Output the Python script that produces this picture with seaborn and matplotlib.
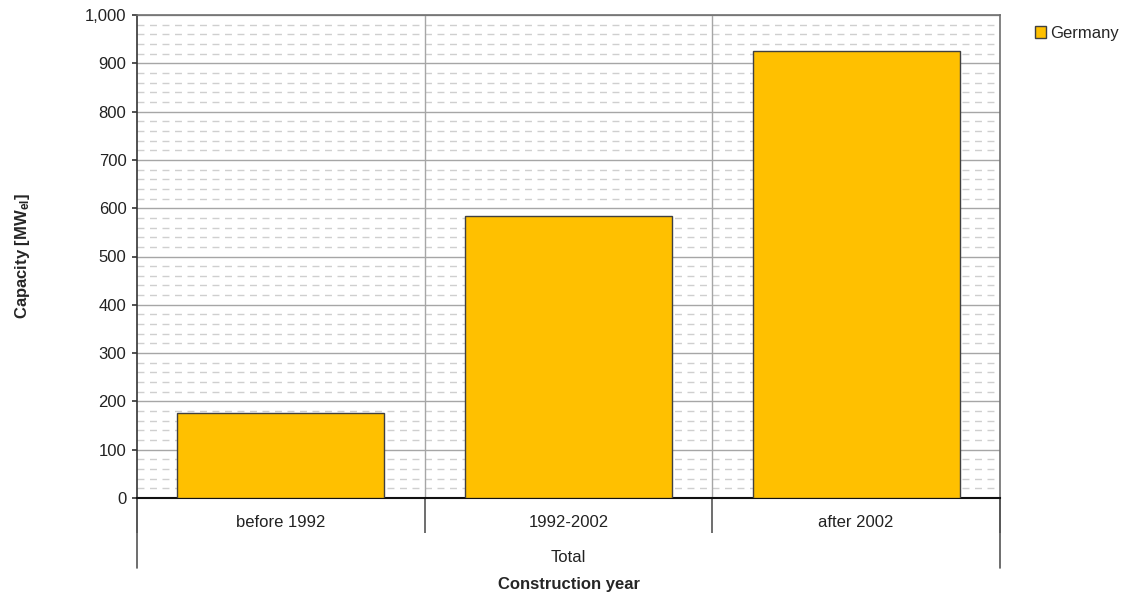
import pandas as pd
import matplotlib.pyplot as plt
import seaborn as sns
from matplotlib.ticker import MultipleLocator, FuncFormatter
from matplotlib.transforms import blended_transform_factory

categories = ["before 1992", "1992-2002", "after 2002"]
capacity = [175, 584, 925]
country = ["Germany", "Germany", "Germany"]

df = pd.DataFrame({"year": categories, "capacity": capacity, "country": country})

sns.set_style("white")
plt.rcParams["font.family"] = ["Liberation Sans", "DejaVu Sans"]
plt.rcParams["mathtext.default"] = "regular"

fig = plt.figure(figsize=(11.34, 5.93), dpi=100)
ax = fig.add_axes([137 / 1134, 95 / 593, 863 / 1134, 483 / 593])

sns.barplot(
    data=df, x="year", y="capacity", hue="country",
    palette=["#FFC000"], saturation=1, width=0.72, edgecolor="#404040",
    linewidth=1.0, ax=ax, zorder=3,
)

ax.set_xlim(-0.5, 2.5)
ax.set_ylim(0, 1000)
ax.yaxis.set_major_locator(MultipleLocator(100))
ax.yaxis.set_minor_locator(MultipleLocator(20))
ax.yaxis.set_major_formatter(FuncFormatter(lambda v, p: f"{int(v):,}"))
ax.grid(axis="y", which="major", color="#A6A6A6", linewidth=1.0, zorder=0)
ax.grid(axis="y", which="minor", color="#CFCFCF", linewidth=1.0,
        linestyle=(0, (5, 4)), zorder=0)
ax.set_axisbelow(True)

# category separators
ax.set_xticks([-0.5, 0.5, 1.5, 2.5])
ax.set_xticklabels([])
ax.set_xticks([0, 1, 2], minor=True)
ax.set_xticklabels(categories, minor=True, fontsize=12, color="#222222")
ax.tick_params(axis="x", which="major", bottom=True, length=25, width=1.2,
               color="#555555", direction="out")
ax.tick_params(axis="x", which="minor", bottom=True, length=0, pad=12)
ax.tick_params(axis="y", which="major", left=True, length=3.6, width=1.2,
               color="#333333", direction="out", labelsize=12,
               labelcolor="#222222", pad=4)
ax.tick_params(axis="y", which="minor", left=False, length=0)
for xv in [0.5, 1.5]:
    ax.axvline(xv, color="#A6A6A6", linewidth=1.0, zorder=1)

trans = blended_transform_factory(ax.transData, ax.transAxes)
for xv in [-0.5, 2.5]:
    ax.plot([xv, xv], [0, -70 / 483], transform=trans, color="#555555",
            linewidth=1.2, clip_on=False)

for side in ["top", "right"]:
    ax.spines[side].set_color("#6E6E6E")
    ax.spines[side].set_linewidth(1.2)
ax.spines["left"].set_color("#333333")
ax.spines["bottom"].set_color("#111111")
ax.spines["left"].set_linewidth(1.2)
ax.spines["bottom"].set_linewidth(1.5)

ax.set_xlabel("")
ax.set_ylabel(r"Capacity [MW$_{el}$]", fontsize=12, fontweight="bold",
              labelpad=38)
ax.text(1, -59 / 483, "Total", transform=trans, ha="center", va="center",
        fontsize=12, color="#222222")
ax.text(1, -86 / 483, "Construction year", transform=trans, ha="center",
        va="center", fontsize=12, fontweight="bold")

leg = ax.legend(
    loc="upper left", bbox_to_anchor=(1023 / 1134, 1 - 14 / 593),
    bbox_transform=fig.transFigure, frameon=False, fontsize=12,
    handlelength=0.7, handleheight=0.7, handletextpad=0.2, borderpad=0.2,
)

fig.savefig("out.png", dpi=100)
plt.close(fig)
